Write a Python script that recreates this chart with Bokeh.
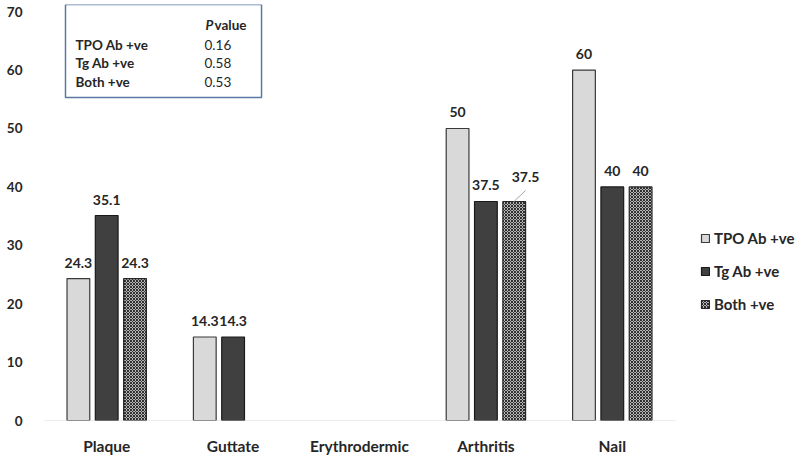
from bokeh.plotting import figure
from bokeh.models import (Range1d, FixedTicker, ColumnDataSource, Legend, LegendItem)
from bokeh.core.properties import value
from bokeh.embed import file_html
from bokeh.resources import INLINE

categories = ["Plaque", "Guttate", "Erythrodermic", "Arthritis", "Nail"]
series_names = ["TPO Ab +ve", "Tg Ab +ve", "Both +ve"]
tpo = [24.3, 14.3, 0, 50, 60]
tg = [35.1, 14.3, 0, 37.5, 40]
both = [24.3, 0, 0, 37.5, 40]
y_ticks = [0, 10, 20, 30, 40, 50, 60, 70]

table_rows = ["TPO Ab +ve", "Tg Ab +ve", "Both +ve"]
table_pvalues = ["0.16", "0.58", "0.53"]

FONT = "Lato"
TXT = "#262626"
Y_END = 71.23
N = len(categories)
X_END = N * 757 / 632  # extra room on the right for the legend

p = figure(width=800, height=460, output_backend="svg", toolbar_location=None,
           x_range=Range1d(0, X_END), y_range=Range1d(0, Y_END),
           min_border_left=43, min_border_right=0, min_border_top=4, min_border_bottom=40)
p.outline_line_color = None
p.xgrid.grid_line_color = None
p.ygrid.grid_line_color = None
p.background_fill_color = "white"
p.border_fill_color = "white"

# axes
p.xaxis.ticker = FixedTicker(ticks=[i + 0.5 for i in range(N)])
p.xaxis.major_label_overrides = {i + 0.5: c for i, c in enumerate(categories)}
p.xaxis.axis_line_color = None
p.xaxis.major_tick_line_color = None
p.xaxis.minor_tick_line_color = None
p.xaxis.major_label_standoff = 10
p.xaxis.major_label_text_font = FONT
p.xaxis.major_label_text_font_style = "bold"
p.xaxis.major_label_text_font_size = "15.5px"
p.xaxis.major_label_text_color = TXT

p.yaxis.ticker = FixedTicker(ticks=y_ticks)
p.yaxis.axis_line_color = None
p.yaxis.major_tick_line_color = None
p.yaxis.minor_tick_line_color = None
p.yaxis.major_label_standoff = 15
p.yaxis.major_label_text_font = FONT
p.yaxis.major_label_text_font_style = "bold"
p.yaxis.major_label_text_font_size = "13.5px"
p.yaxis.major_label_text_color = TXT

# category baseline
p.segment(x0=[0], y0=[0], x1=[N], y1=[0], line_color="#d9d9d9", line_width=1)

offsets = [-0.224, 0.0, 0.224]
bar_w = 0.18
styles = [
    dict(fill_color="#d9d9d9", line_color="#3a3a3a"),
    dict(fill_color="#404040", line_color="#1a1a1a"),
    dict(fill_color="#f2f2f2", line_color="#262626", hatch_pattern="diagonal_cross",
         hatch_color="#2a2a2a", hatch_scale=3, hatch_weight=1.1),
]

renderers = []
for s, (vals, off, st) in enumerate(zip([tpo, tg, both], offsets, styles)):
    xs = [i + 0.5 + off for i, v in enumerate(vals) if v > 0]
    tops = [v for v in vals if v > 0]
    labels = [f"{v:g}" for v in tops]
    src = ColumnDataSource(dict(x=xs, top=tops, label=labels))
    r = p.vbar(x="x", top="top", width=bar_w, source=src, line_width=1.2, **st)
    renderers.append(r)
    lx, ly, ll = [], [], []
    for x, t, lab in zip(xs, tops, labels):
        if s == 2 and abs(x - (3.5 + off)) < 1e-6:
            # Arthritis / Both label sits up and to the right with a leader line
            p.text(x=[x + 0.09], y=[t], text=[lab], text_align="center", text_baseline="middle",
                   y_offset=-24, text_font=value(FONT), text_font_style="bold",
                   text_font_size="14px", text_color=TXT)
            p.segment(x0=[x + 0.09], y0=[t + 1.9], x1=[x - 0.006], y1=[t - 0.1],
                      line_color="#a6a6a6", line_width=1)
        else:
            lx.append(x); ly.append(t); ll.append(lab)
    p.text(x=lx, y=ly, text=ll, text_align="center", text_baseline="middle",
           y_offset=-16, text_font=value(FONT), text_font_style="bold",
           text_font_size="14px", text_color=TXT)

# p-value table box
p.quad(left=[0.174], right=[1.725], top=[Y_END], bottom=[55.3],
       fill_color="white", line_color="#5a7aa3", line_width=1.5)
p.text(x=[1.282], y=[67.64], text=["P"], text_align="left", text_baseline="middle",
       text_font=value(FONT), text_font_style="bold italic", text_font_size="13.5px", text_color=TXT)
p.text(x=[1.353], y=[67.64], text=["value"], text_align="left", text_baseline="middle",
       text_font=value(FONT), text_font_style="bold", text_font_size="13.5px", text_color=TXT)
row_y = [64.21, 61.13, 57.88]
p.text(x=[0.253] * 3, y=row_y, text=table_rows, text_align="left", text_baseline="middle",
       text_font=value(FONT), text_font_style="bold", text_font_size="13.5px", text_color=TXT)
p.text(x=[1.274] * 3, y=row_y, text=table_pvalues, text_align="left", text_baseline="middle",
       text_font=value(FONT), text_font_size="13.5px", text_color=TXT)

legend = Legend(items=[LegendItem(label=n, renderers=[r]) for n, r in zip(series_names, renderers)],
                location=(657, 107), padding=0, margin=0, spacing=15,
                glyph_width=10, glyph_height=10, label_height=16, label_standoff=4,
                label_text_font=FONT, label_text_font_style="bold", label_text_font_size="15px",
                label_text_color=TXT, border_line_color=None, background_fill_alpha=0)
p.add_layout(legend, "center")

open("out.html", "w").write(file_html(p, INLINE))
